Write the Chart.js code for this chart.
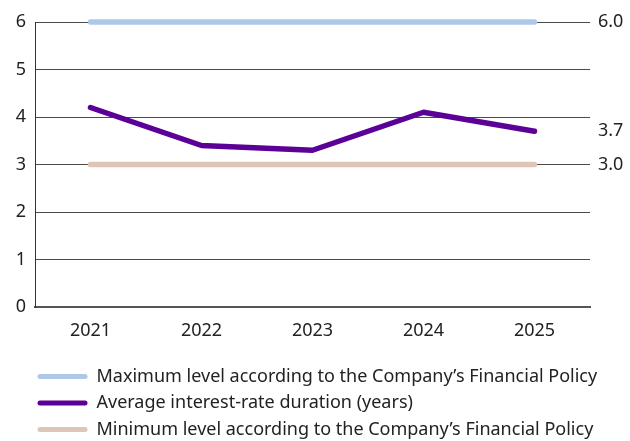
<!DOCTYPE html>
<html>
<head>
<meta charset="utf-8">
<script src="https://cdn.jsdelivr.net/npm/chart.js@4.4.1/dist/chart.umd.min.js"></script>
<style>
  html, body { margin: 0; padding: 0; background: #fff; }
  #wrap { width: 630px; height: 441px; position: relative; }
</style>
</head>
<body>
<div id="wrap"><canvas id="graph"></canvas></div>
<script>
const years = ['2021', '2022', '2023', '2024', '2025'];
const maxLevel = [6, 6, 6, 6, 6];
const duration = [4.2, 3.4, 3.3, 4.1, 3.7];
const minLevel = [3, 3, 3, 3, 3];
const rightTicks = [3.0, 3.7, 6.0];
const seriesNames = [
    'Maximum level according to the Company\u2019s Financial Policy',
    'Average interest-rate duration (years)',
    'Minimum level according to the Company\u2019s Financial Policy'
];

const blue = '#adc9e7';
const purple = '#5c0197';
const beige = '#dfc4b8';
const textColor = '#222';
const font = { family: 'Noto Sans', size: 18 };

// push the legend to the right so it lines up with the plot
const legendShift = {
    id: 'legendShift',
    afterLayout: function(c) {
        c.legend.left += 29;
        c.legend.right += 29;
    }
};

const ctx = document.getElementById('graph').getContext('2d');

const chart = new Chart(ctx, {
    type: 'line',
    data: {
        labels: years,
        datasets: [
            { label: seriesNames[0], data: maxLevel, borderColor: blue, backgroundColor: blue, clip: false },
            { label: seriesNames[1], data: duration, borderColor: purple, backgroundColor: purple, clip: false },
            { label: seriesNames[2], data: minLevel, borderColor: beige, backgroundColor: beige, clip: false }
        ]
    },
    plugins: [legendShift],
    options: {
        responsive: true,
        maintainAspectRatio: false,
        animation: false,
        elements: {
            line: { borderWidth: 5.5, borderCapStyle: 'round', borderJoinStyle: 'round', tension: 0 },
            point: { radius: 0, hoverRadius: 0 }
        },
        layout: { padding: { top: 22, left: 0, right: 0, bottom: -7.5 } },
        scales: {
            x: {
                offset: true,
                grid: { display: false },
                border: { color: '#555', width: 2 },
                ticks: { color: textColor, font: font, padding: 5 },
                afterFit: function(s) { s.height = 52; }
            },
            y: {
                min: 0,
                max: 6,
                ticks: { stepSize: 1, color: textColor, font: font, padding: 9 },
                grid: { color: '#4a4a4a', lineWidth: 1, drawTicks: false },
                border: { color: '#333', width: 1 },
                afterFit: function(s) { s.width = 35; }
            },
            y2: {
                position: 'right',
                min: 0,
                max: 6,
                afterBuildTicks: function(s) { s.ticks = rightTicks.map(v => ({ value: v })); },
                ticks: {
                    color: textColor,
                    font: font,
                    padding: 8,
                    callback: function(v) { return Number(v).toFixed(1); }
                },
                grid: { display: false, drawTicks: false },
                border: { display: false },
                afterFit: function(s) { s.width = 40; }
            }
        },
        plugins: {
            tooltip: { enabled: false },
            legend: {
                position: 'bottom',
                align: 'start',
                labels: {
                    color: textColor,
                    font: font,
                    boxWidth: 50,
                    boxHeight: 5,
                    padding: 8.5,
                    useBorderRadius: true,
                    borderRadius: 2.5,
                    generateLabels: function(c) {
                        const items = Chart.defaults.plugins.legend.labels.generateLabels(c);
                        return items.map(function(it) {
                            it.lineWidth = 0;
                            it.fillStyle = c.data.datasets[it.datasetIndex].borderColor;
                            return it;
                        });
                    }
                }
            }
        }
    }
});
</script>
</body>
</html>
